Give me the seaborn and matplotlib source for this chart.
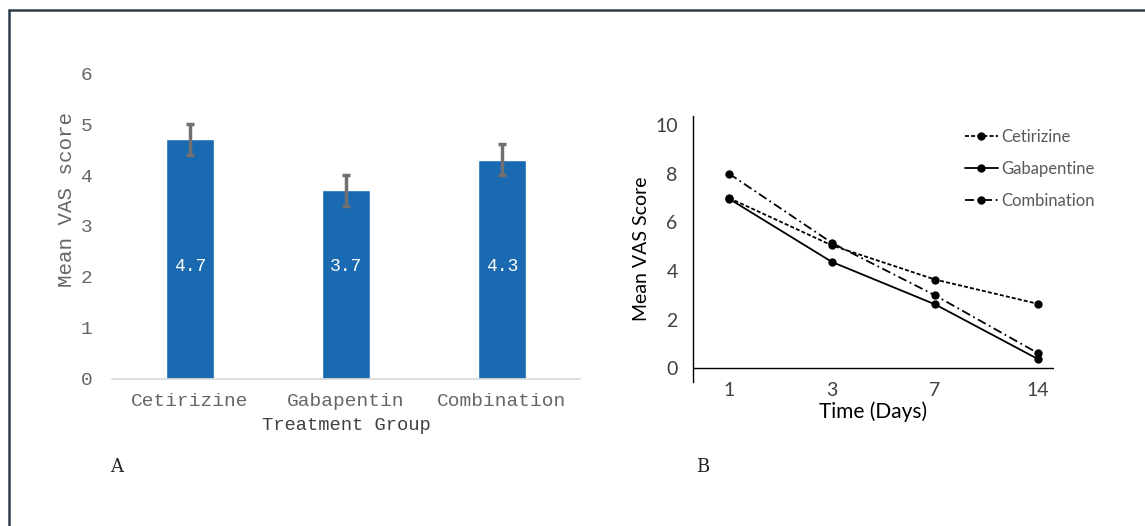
import matplotlib
matplotlib.use("Agg")
import matplotlib.pyplot as plt
from matplotlib.lines import Line2D
import seaborn as sns
import pandas as pd

# panel A data
groups = ["Cetirizine", "Gabapentin", "Combination"]
means = [4.7, 3.7, 4.3]
errs = [0.3, 0.3, 0.3]

# panel B data
days = ["1", "3", "7", "14"]
cetirizine = [7.0, 5.05, 3.65, 2.65]
gabapentine = [6.97, 4.37, 2.63, 0.38]
combination = [8.0, 5.15, 3.0, 0.62]
series_names = ["Cetirizine", "Gabapentine", "Combination"]

sns.set_theme(style="white")
plt.rcParams["font.family"] = ["Liberation Mono", "DejaVu Sans"]

fig = plt.figure(figsize=(11.45, 5.26), dpi=100)

# ---------------- panel A ----------------
ax1 = fig.add_axes([0.0978, 0.2795, 0.4087, 0.5817])
sns.barplot(x=groups, y=means, color="#1a6ab2", saturation=1, width=0.31, ax=ax1)
ax1.errorbar(groups, means, yerr=errs, fmt="none", ecolor="#707070",
             elinewidth=2.5, capsize=3, capthick=2.5)
for g, v in zip(groups, means):
    ax1.text(g, 2.2, f"{v:.1f}", ha="center", va="center", color="white",
             fontsize=13, family="Liberation Mono")
ax1.set_ylim(0, 6)
ax1.set_xlim(-0.5, 2.5)
ax1.set_yticks(range(0, 7))
for s in ["top", "right", "left"]:
    ax1.spines[s].set_visible(False)
ax1.spines["bottom"].set_color("#d9d9d9")
ax1.tick_params(axis="both", length=0, labelsize=14, labelcolor="#666666")
ax1.tick_params(axis="x", pad=10)
ax1.tick_params(axis="y", pad=14)
ax1.set_ylabel("Mean VAS score", fontsize=15, color="#666666")
ax1.yaxis.set_label_coords(-0.077, 0.585)
ax1.set_xlabel("Treatment Group", fontsize=13.5, color="#404040", labelpad=5)

# ---------------- panel B ----------------
df = pd.DataFrame({
    "day": days * 3,
    "score": cetirizine + gabapentine + combination,
    "group": [n for n in series_names for _ in days],
})
ax2 = fig.add_axes([0.6052, 0.2738, 0.3149, 0.5057])
sns.lineplot(data=df, x="day", y="score", hue="group", style="group",
             palette=["black"] * 3,
             dashes={"Cetirizine": (2.2, 1.2), "Gabapentine": "",
                     "Combination": (5, 2, 1, 2)},
             markers={"Cetirizine": "o", "Gabapentine": "o", "Combination": "o"},
             markersize=6, markeredgewidth=0, linewidth=1.3, ax=ax2, legend=True)
ax2.axhline(0, color="black", lw=1)
ax2.set_xlim(-0.35, 3.15)
ax2.set_ylim(-0.56, 10.37)
ax2.set_yticks(range(0, 11, 2))
for s in ["top", "right", "bottom"]:
    ax2.spines[s].set_visible(False)
ax2.spines["left"].set_color("black")
ax2.spines["left"].set_linewidth(1)
ax2.tick_params(axis="both", length=0, labelsize=14, labelcolor="#404040")
ax2.tick_params(axis="x", pad=0)
ax2.tick_params(axis="y", pad=11)
for lab in ax2.get_xticklabels() + ax2.get_yticklabels():
    lab.set_family("Lato")
ax2.set_xlabel("Time (Days)", fontsize=15, family="Lato", color="black", labelpad=2)
ax2.set_ylabel("Mean VAS Score", fontsize=14, family="Lato", color="black")
ax2.yaxis.set_label_coords(-0.119, 0.5)
leg = ax2.legend(loc="upper left", bbox_to_anchor=(0.735, 0.975), frameon=False,
                 prop={"family": "Lato", "size": 12}, labelspacing=0.95,
                 handlelength=2.0, handletextpad=0.2, borderaxespad=0)
for t in leg.get_texts():
    t.set_color("#595959")

# panel letters
fig.text(117 / 1145, 1 - 467 / 526, "A", fontsize=13, family="DejaVu Serif",
         ha="center", va="center", color="#222222")
fig.text(703 / 1145, 1 - 467 / 526, "B", fontsize=13, family="DejaVu Serif",
         ha="center", va="center", color="#222222")

# frame around the figure (top and left only visible)
fig.add_artist(Line2D([9 / 1145, 1.0], [1 - 10 / 526, 1 - 10 / 526],
                      transform=fig.transFigure, color="#2d3e4e", lw=1.8))
fig.add_artist(Line2D([9 / 1145, 9 / 1145], [0, 1 - 10 / 526],
                      transform=fig.transFigure, color="#2d3e4e", lw=1.8))

fig.savefig("out.png", dpi=100)
